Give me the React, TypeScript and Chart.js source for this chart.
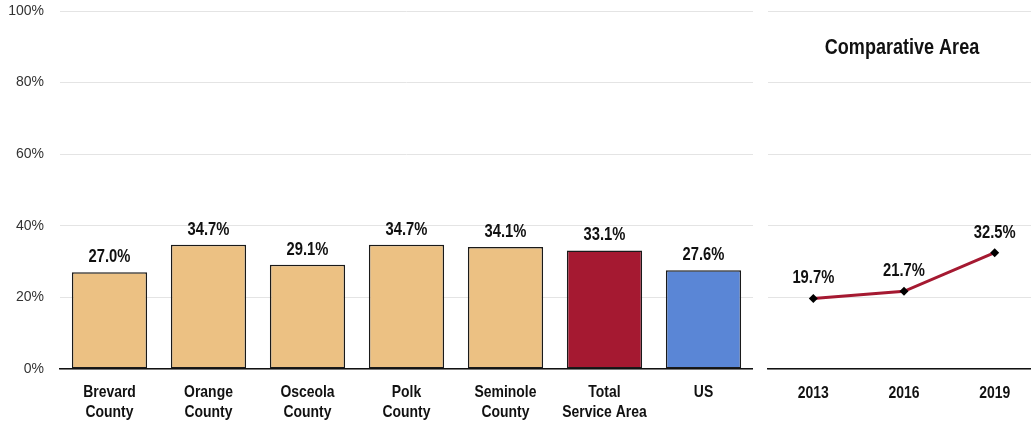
import React, { useEffect, useRef } from 'react';
import { Chart, registerables } from 'chart.js';

Chart.register(...registerables);

const categories: string[][] = [
  ['Brevard', 'County'],
  ['Orange', 'County'],
  ['Osceola', 'County'],
  ['Polk', 'County'],
  ['Seminole', 'County'],
  ['Total', 'Service Area'],
  ['US'],
];
const values = [27.0, 34.7, 29.1, 34.7, 34.1, 33.1, 27.6];
const barColors = ['#ECC183', '#ECC183', '#ECC183', '#ECC183', '#ECC183', '#A51931', '#5A86D6'];
const years = ['2013', '2016', '2019'];
const trend = [19.7, 21.7, 32.5];
const yTickValues = [0, 20, 40, 60, 80, 100];
const trendTitle = 'Comparative Area';

const BOLD = '"Liberation Sans", Arial, sans-serif';
const REGULAR = '"Liberation Sans", Arial, sans-serif';
const GRID = '#E4E4E4';
const NARROW_X = 0.82;

function narrowText(ctx: CanvasRenderingContext2D, text: string, x: number, y: number, size: number) {
  ctx.save();
  ctx.font = `bold ${size}px ${BOLD}`;
  ctx.fillStyle = '#111';
  ctx.textAlign = 'center';
  ctx.textBaseline = 'middle';
  ctx.translate(x, y);
  ctx.scale(NARROW_X, 1);
  ctx.fillText(text, 0, 0);
  ctx.restore();
}

const valueLabels = (offset: number) => ({
  id: 'valueLabels' + offset,
  afterDatasetsDraw(chart: any) {
    const meta = chart.getDatasetMeta(0);
    const data = chart.data.datasets[0].data as number[];
    meta.data.forEach((el: any, i: number) => {
      narrowText(chart.ctx, data[i].toFixed(1) + '%', el.x, el.y - offset, 18);
    });
  },
});

const xLabels = (firstGap: number, lineGap: number) => ({
  id: 'xLabels',
  afterDraw(chart: any) {
    const sx = chart.scales.x;
    const labels = chart.data.labels as any[];
    labels.forEach((lab: any, i: number) => {
      const lines = Array.isArray(lab) ? lab : [lab];
      const x = sx.getPixelForTick(i);
      lines.forEach((t: string, j: number) => {
        narrowText(chart.ctx, t, x, sx.top + firstGap + j * lineGap, 17);
      });
    });
  },
});

const titlePlugin = {
  id: 'trendTitle',
  afterDraw(chart: any) {
    narrowText(chart.ctx, trendTitle, 142, 48, 22);
  },
};

const fixY = (width: number) => (s: any) => {
  s.width = width;
  s.paddingTop = 0;
  s.paddingBottom = 0;
};

export default function App() {
  const barRef = useRef<HTMLCanvasElement>(null);
  const lineRef = useRef<HTMLCanvasElement>(null);

  useEffect(() => {
    const bar = new Chart(barRef.current!, {
      type: 'bar',
      data: {
        labels: categories,
        datasets: [
          {
            data: values,
            backgroundColor: barColors,
            borderColor: '#1A1A1A',
            borderWidth: 1.5,
            borderSkipped: false,
            barPercentage: 0.76,
            categoryPercentage: 1,
          },
        ],
      },
      options: {
        animation: false,
        responsive: false,
        devicePixelRatio: 1,
        layout: { padding: { top: 11, left: 0, right: 0, bottom: 0 } },
        plugins: { legend: { display: false }, tooltip: { enabled: false } },
        scales: {
          x: {
            grid: { display: false },
            border: { display: true, color: '#111', width: 1.5 },
            ticks: { display: false },
            afterFit: (s: any) => { s.height = 54; s.paddingLeft = 0; s.paddingRight = 0; },
          },
          y: {
            min: 0,
            max: 100,
            afterBuildTicks: (s: any) => { s.ticks = yTickValues.map((v) => ({ value: v })); },
            grid: { color: GRID, lineWidth: 1, drawTicks: false },
            border: { display: false },
            ticks: {
              color: '#333',
              font: { family: REGULAR, size: 14 },
              padding: 16,
              callback: (v: any) => v + '%',
            },
            afterFit: fixY(60),
          },
        },
      },
      plugins: [valueLabels(15), xLabels(23, 20)],
    });

    const line = new Chart(lineRef.current!, {
      type: 'line',
      data: {
        labels: years,
        datasets: [
          {
            data: trend,
            borderColor: '#A51931',
            borderWidth: 3,
            pointStyle: 'rectRot',
            pointRadius: 4.5,
            pointBackgroundColor: '#000',
            pointBorderColor: '#000',
            pointBorderWidth: 0,
            tension: 0,
          },
        ],
      },
      options: {
        animation: false,
        responsive: false,
        devicePixelRatio: 1,
        layout: { padding: { top: 11, left: 8, right: 10, bottom: 0 } },
        plugins: { legend: { display: false }, tooltip: { enabled: false } },
        scales: {
          x: {
            offset: true,
            grid: { display: false },
            border: { display: true, color: '#111', width: 1.5 },
            ticks: { display: false },
            afterFit: (s: any) => { s.height = 54; },
          },
          y: {
            min: 0,
            max: 100,
            afterBuildTicks: (s: any) => { s.ticks = yTickValues.map((v) => ({ value: v })); },
            grid: { color: GRID, lineWidth: 1, drawTicks: false },
            border: { display: false },
            ticks: { display: false },
            afterFit: fixY(0),
          },
        },
      },
      plugins: [valueLabels(20), titlePlugin, xLabels(24, 20)],
    });

    return () => {
      bar.destroy();
      line.destroy();
    };
  }, []);

  return (
    <div style={{ position: 'fixed', left: 0, top: 0, width: 1031, height: 423, overflow: 'hidden', background: '#fff' }}>
      <canvas ref={barRef} width={753} height={423} style={{ position: 'absolute', left: 0, top: 0, width: 753, height: 423 }} />
      <canvas ref={lineRef} width={290} height={423} style={{ position: 'absolute', left: 760, top: 0, width: 290, height: 423 }} />
    </div>
  );
}
